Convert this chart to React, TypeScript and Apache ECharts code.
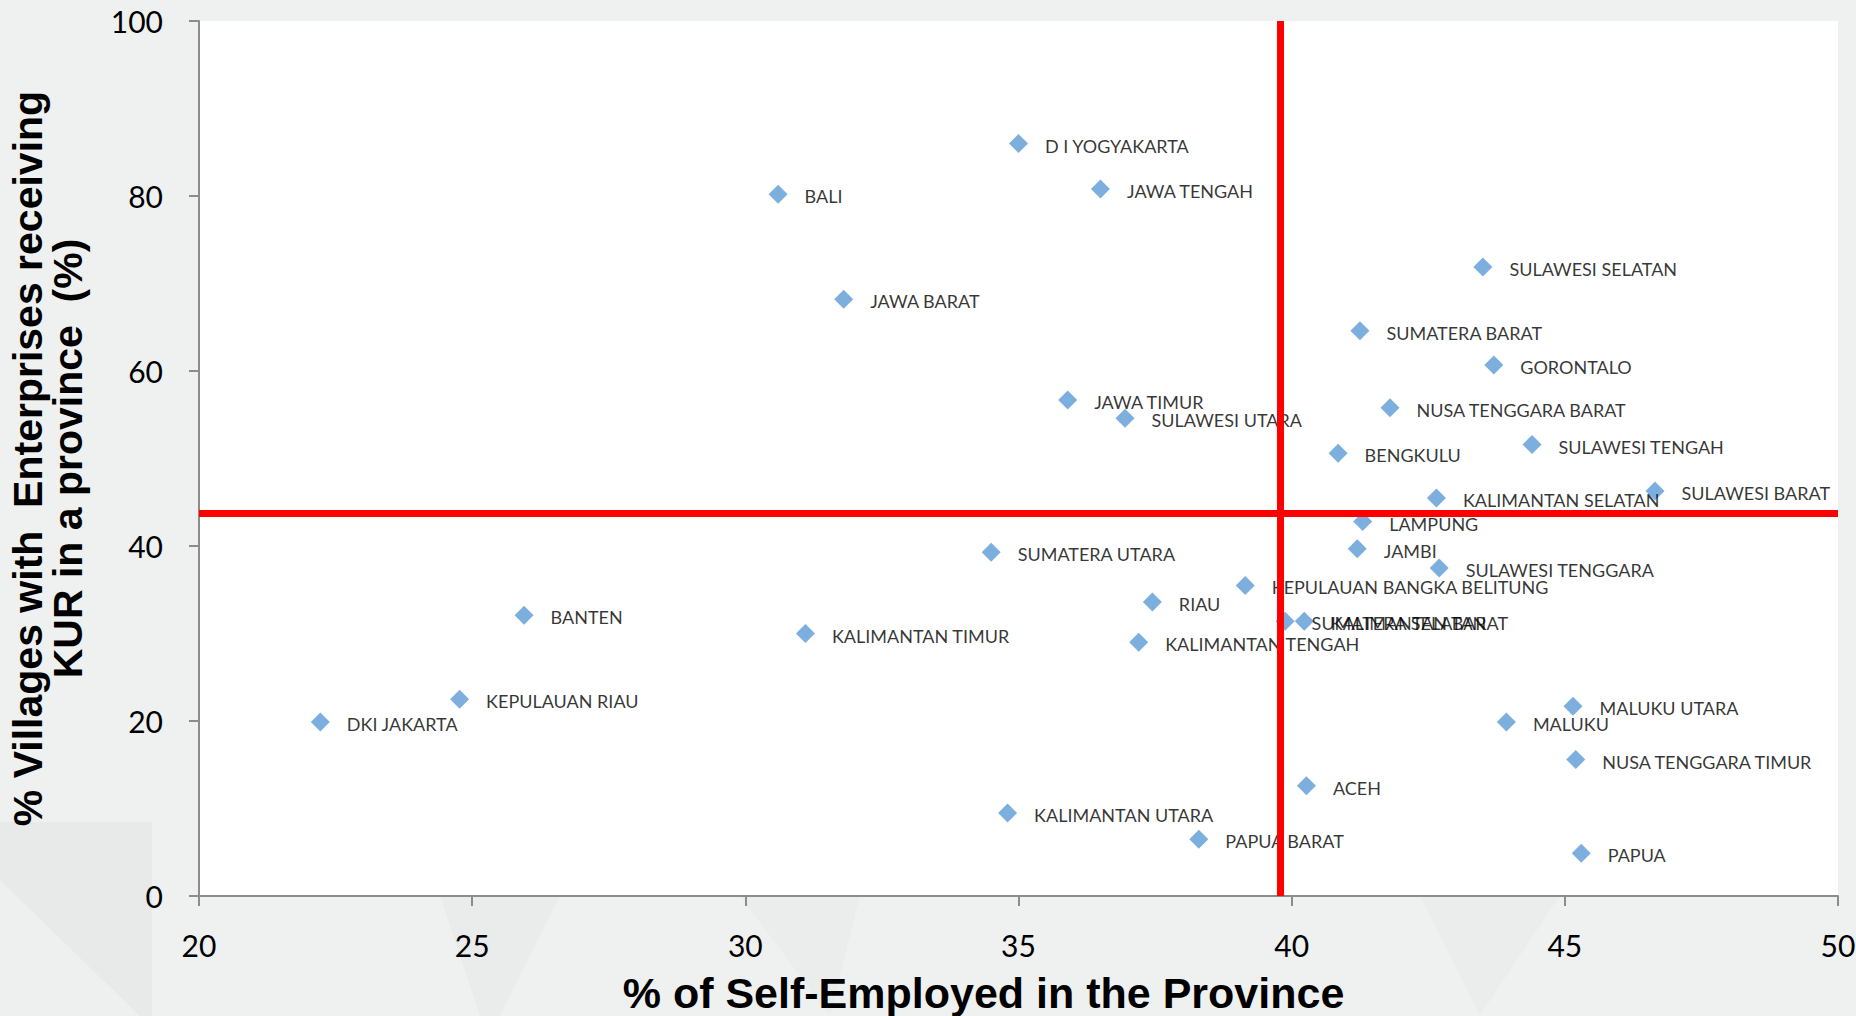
import React, { useEffect, useRef } from "react";
import * as echarts from "echarts";

// Province names, in drawing order
const provinces: string[] = [
  "D I YOGYAKARTA", "BALI", "JAWA TENGAH", "SULAWESI SELATAN", "JAWA BARAT",
  "SUMATERA BARAT", "GORONTALO", "JAWA TIMUR", "SULAWESI UTARA", "NUSA TENGGARA BARAT",
  "BENGKULU", "SULAWESI TENGAH", "KALIMANTAN SELATAN", "SULAWESI BARAT", "LAMPUNG",
  "SUMATERA UTARA", "JAMBI", "SULAWESI TENGGARA", "KEPULAUAN BANGKA BELITUNG", "BANTEN",
  "RIAU", "SUMATERA SELATAN", "KALIMANTAN BARAT", "KALIMANTAN TIMUR", "KALIMANTAN TENGAH",
  "KEPULAUAN RIAU", "DKI JAKARTA", "MALUKU UTARA", "MALUKU", "NUSA TENGGARA TIMUR",
  "ACEH", "KALIMANTAN UTARA", "PAPUA BARAT", "PAPUA",
];

// % of self-employed in the province
const selfEmployed: number[] = [
  35.0, 30.6, 36.5, 43.5, 31.8,
  41.25, 43.7, 35.9, 36.95, 41.8,
  40.85, 44.4, 42.65, 46.65, 41.3,
  34.5, 41.2, 42.7, 39.15, 25.95,
  37.45, 39.88, 40.23, 31.1, 37.2,
  24.77, 22.22, 45.15, 43.93, 45.2,
  40.27, 34.8, 38.3, 45.3,
];

// % of villages with enterprises receiving KUR
const villagesKur: number[] = [
  86.0, 80.2, 80.8, 71.9, 68.2,
  64.6, 60.7, 56.7, 54.6, 55.8,
  50.6, 51.6, 45.5, 46.3, 42.8,
  39.3, 39.7, 37.5, 35.5, 32.1,
  33.6, 31.4, 31.4, 30.0, 29.0,
  22.5, 19.9, 21.7, 19.9, 15.6,
  12.6, 9.5, 6.5, 4.9,
];

// Reference lines (national averages)
const avgSelfEmployed = 39.8;
const avgVillagesKur = 43.7;

const xTicks = { min: 20, max: 50, interval: 5 };
const yTicks = { min: 0, max: 100, interval: 20 };

const labelFont = "Lato, 'Open Sans', sans-serif";
const titleFont = "'Liberation Sans', Arial, sans-serif";

export default function App() {
  const ref = useRef<HTMLDivElement>(null);

  useEffect(() => {
    if (!ref.current) return;
    const chart = echarts.init(ref.current, undefined, { renderer: "svg" });

    const points = provinces.map((name, i) => ({
      name,
      value: [selfEmployed[i], villagesKur[i]],
    }));

    const axisColor = "#8c8c8c";

    chart.setOption({
      animation: false,
      backgroundColor: "#eff1f1",
      graphic: [
        {
          type: "rect",
          z: -10,
          shape: { x: 0, y: 822, width: 152, height: 194 },
          style: { fill: "#e8eaea" },
        },
        {
          type: "polygon",
          z: -9,
          shape: { points: [[0, 880], [140, 1016], [0, 1016]] },
          style: { fill: "#eef0f0" },
        },
        {
          type: "polygon",
          z: -9,
          shape: { points: [[440, 896], [560, 896], [500, 1016], [480, 1016]] },
          style: { fill: "#eaecec" },
        },
        {
          type: "polygon",
          z: -9,
          shape: { points: [[740, 896], [860, 896], [830, 1016]] },
          style: { fill: "#ebeded" },
        },
        {
          type: "polygon",
          z: -9,
          shape: { points: [[1420, 896], [1560, 896], [1480, 1016]] },
          style: { fill: "#ebeded" },
        },
      ],
      grid: {
        left: 199,
        right: 18,
        top: 21,
        bottom: 120,
        show: true,
        backgroundColor: "#ffffff",
        borderWidth: 0,
        containLabel: false,
        outerBoundsMode: "none",
      },
      xAxis: {
        type: "value",
        min: xTicks.min,
        max: xTicks.max,
        interval: xTicks.interval,
        name: "% of Self-Employed in the Province",
        nameLocation: "middle",
        nameGap: 75,
        nameTextStyle: {
          fontFamily: titleFont,
          fontWeight: "bold",
          fontSize: 43,
          color: "#000",
          padding: [0, 70, 0, 0],
        },
        axisLine: { show: true, onZero: false, lineStyle: { color: axisColor, width: 2 } },
        axisTick: { show: true, length: 10, lineStyle: { color: axisColor, width: 2 } },
        splitLine: { show: false },
        axisLabel: { fontFamily: labelFont, fontSize: 30, color: "#000", margin: 34 },
      },
      yAxis: {
        type: "value",
        min: yTicks.min,
        max: yTicks.max,
        interval: yTicks.interval,
        name: "% Villages with  Enterprises receiving\nKUR in a province  (%)",
        nameLocation: "middle",
        nameRotate: 90,
        nameGap: 111,
        nameTextStyle: {
          fontFamily: titleFont,
          fontWeight: "bold",
          fontSize: 41,
          lineHeight: 40,
          color: "#000",
          align: "center",
        },
        axisLine: { show: true, onZero: false, lineStyle: { color: axisColor, width: 2 } },
        axisTick: { show: true, length: 10, lineStyle: { color: axisColor, width: 2 } },
        splitLine: { show: false },
        axisLabel: { fontFamily: labelFont, fontSize: 30, color: "#000", margin: 36 },
      },
      series: [
        {
          type: "scatter",
          data: points,
          symbol: "diamond",
          symbolSize: 19,
          itemStyle: { color: "#5b9bd5" },
          label: {
            show: true,
            position: "right",
            distance: 17,
            offset: [0, 2],
            formatter: "{b}",
            fontFamily: labelFont,
            fontSize: 18,
            color: "#000",
          },
          markLine: {
            silent: true,
            symbol: "none",
            label: { show: false },
            lineStyle: { color: "#ff0000", width: 7, type: "solid" },
            data: [{ xAxis: avgSelfEmployed }, { yAxis: avgVillagesKur }],
          },
        },
      ],
    });

    return () => chart.dispose();
  }, []);

  return (
    <div
      ref={ref}
      style={{ position: "fixed", left: 0, top: 0, width: 1856, height: 1016 }}
    />
  );
}
